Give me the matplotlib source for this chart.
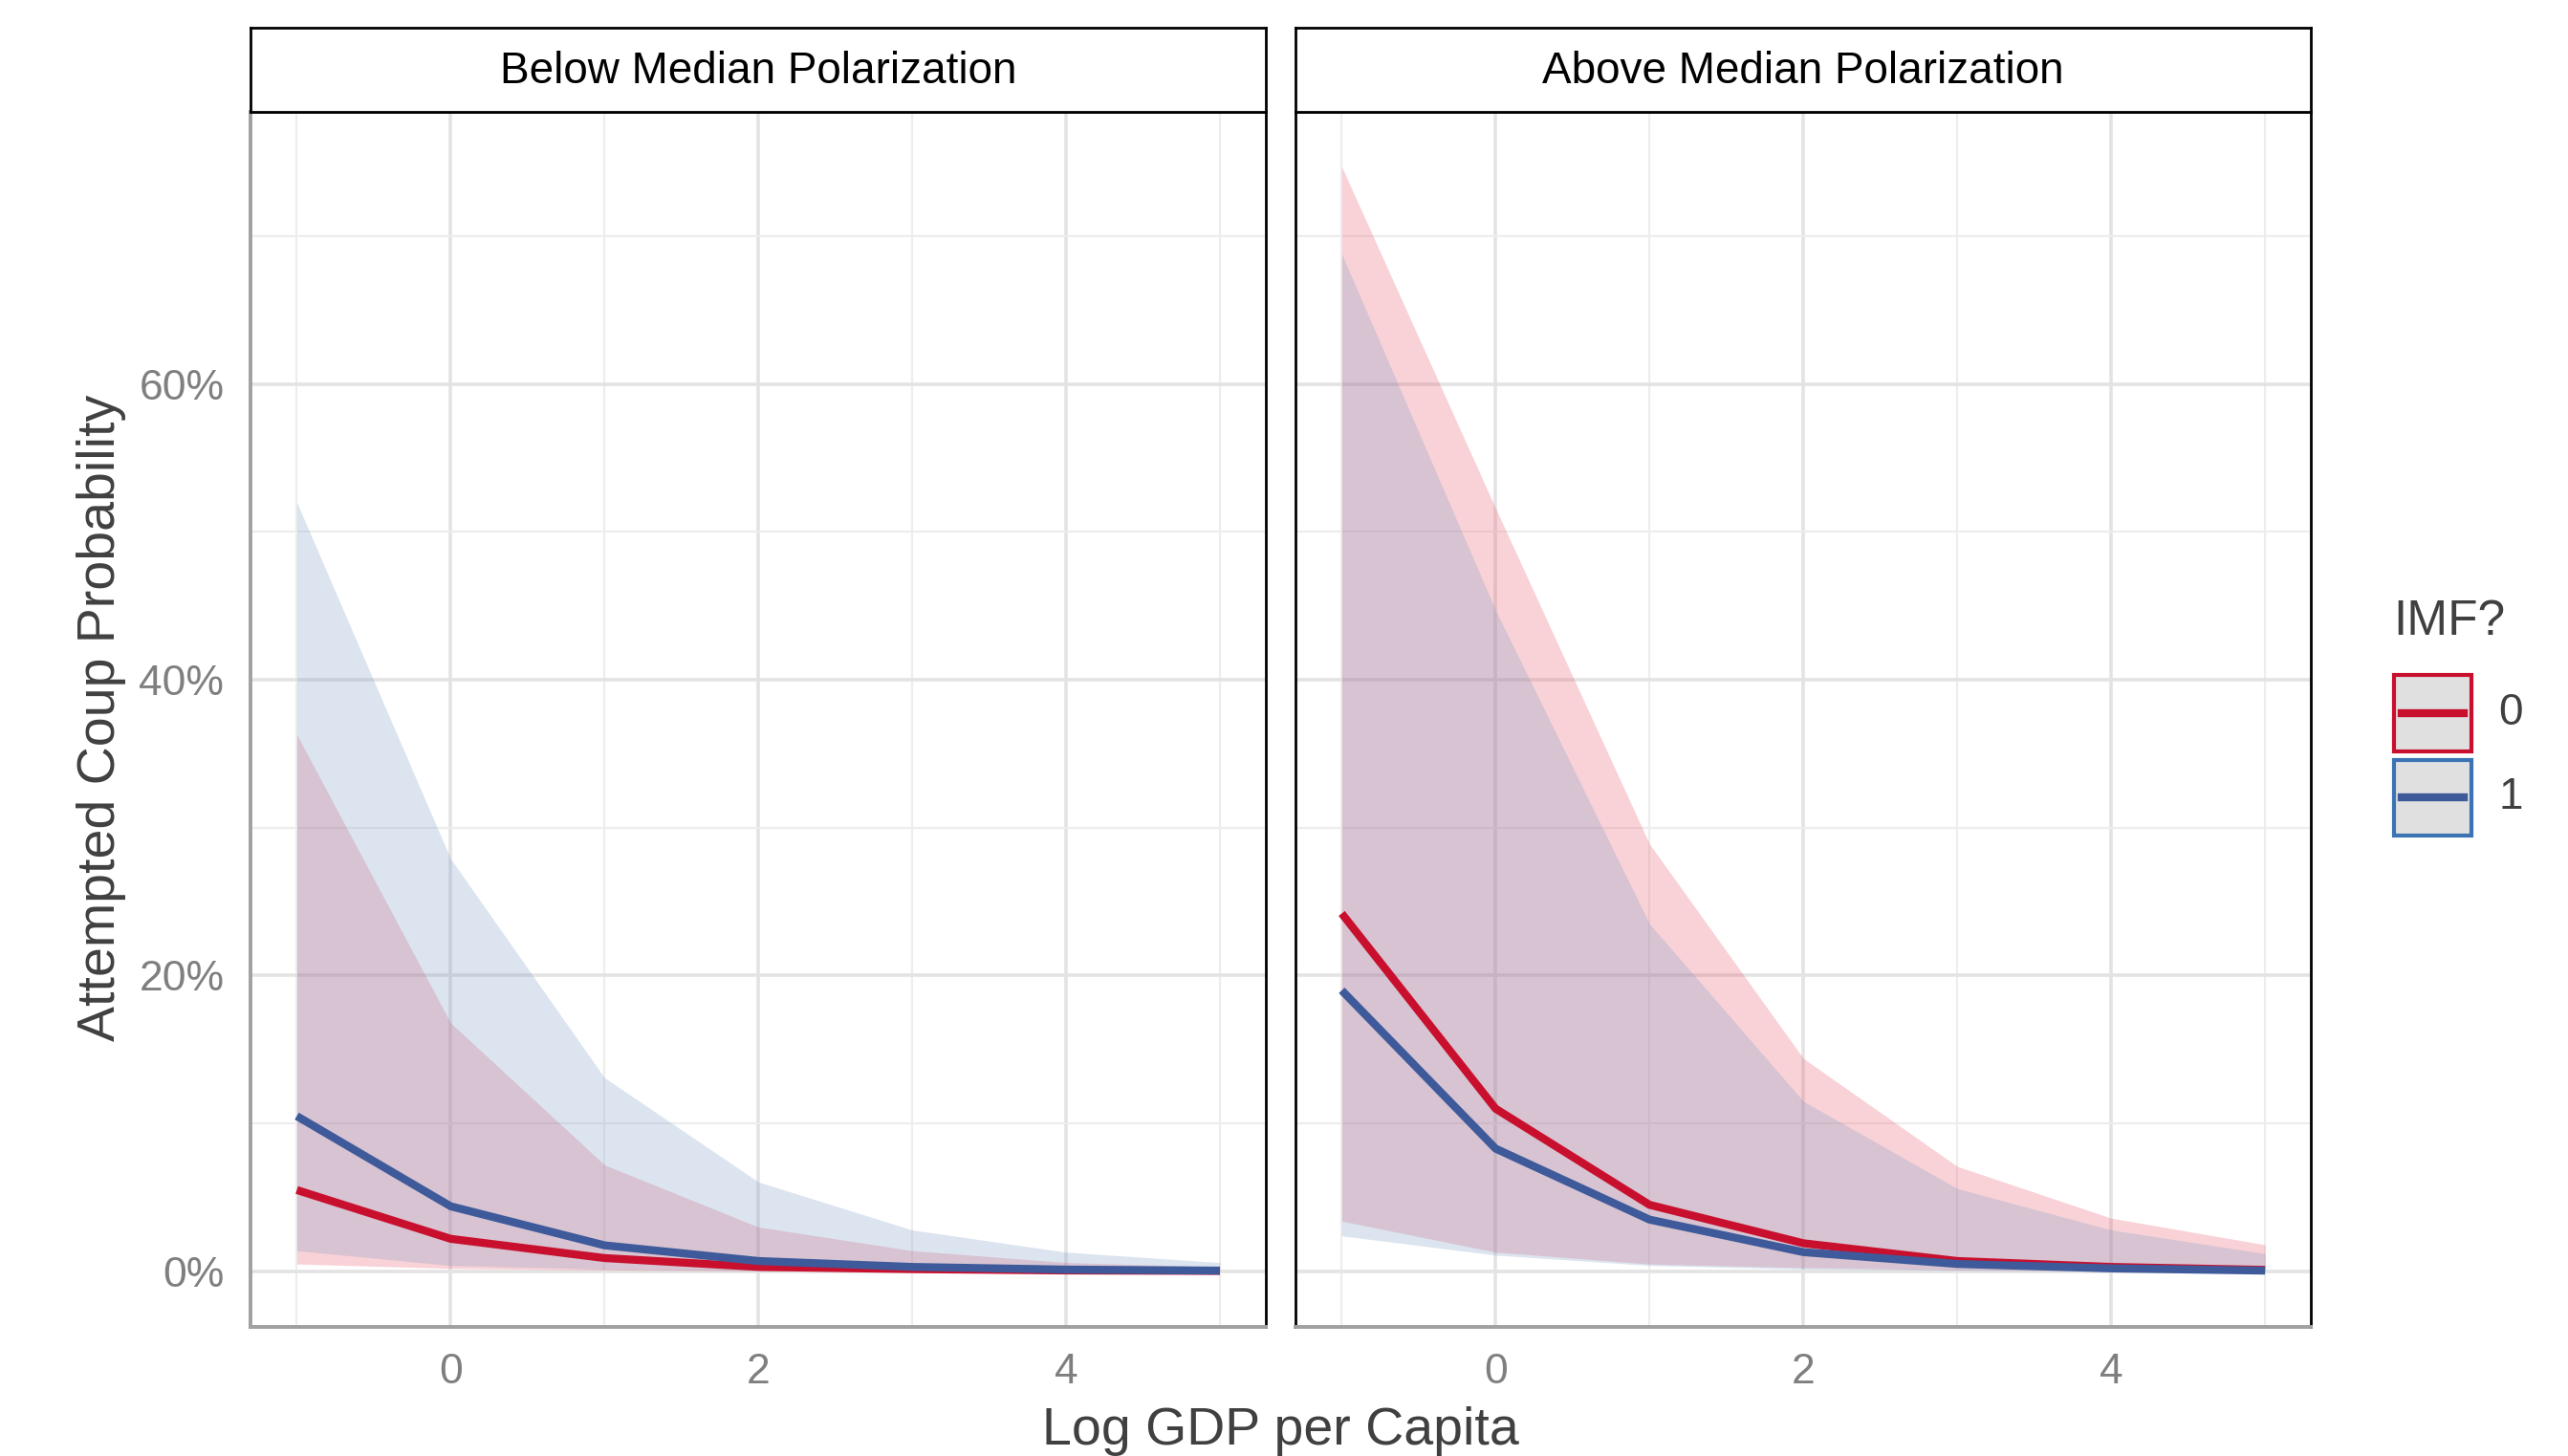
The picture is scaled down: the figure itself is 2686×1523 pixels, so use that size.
import numpy as np
import matplotlib.pyplot as plt
from matplotlib.patches import Rectangle
from matplotlib.lines import Line2D
from matplotlib.ticker import FuncFormatter

plt.rcParams['font.family'] = ['Liberation Sans', 'DejaVu Sans']

# log GDP per capita
x = [-1, 0, 1, 2, 3, 4, 5]

# below median polarization
below_fit_0 = [0.055, 0.022, 0.009, 0.003, 0.0015, 0.0006, 0.0003]
below_lo_0 = [0.005, 0.002, 0.0008, 0.0003, 0.0001, 0.00005, 0.00002]
below_hi_0 = [0.363, 0.168, 0.072, 0.030, 0.014, 0.006, 0.003]
below_fit_1 = [0.105, 0.044, 0.0176, 0.007, 0.003, 0.0012, 0.0005]
below_lo_1 = [0.014, 0.004, 0.0015, 0.0005, 0.0002, 0.0001, 0.00003]
below_hi_1 = [0.520, 0.279, 0.131, 0.0605, 0.028, 0.013, 0.006]

# above median polarization
above_fit_0 = [0.242, 0.110, 0.045, 0.019, 0.007, 0.003, 0.001]
above_lo_0 = [0.034, 0.013, 0.005, 0.0025, 0.001, 0.0004, 0.0002]
above_hi_0 = [0.747, 0.516, 0.289, 0.144, 0.071, 0.036, 0.018]
above_fit_1 = [0.190, 0.083, 0.035, 0.013, 0.005, 0.002, 0.0005]
above_lo_1 = [0.024, 0.011, 0.004, 0.0015, 0.0006, 0.0002, 0.0001]
above_hi_1 = [0.688, 0.447, 0.235, 0.115, 0.056, 0.028, 0.012]

panels = ["Below Median Polarization", "Above Median Polarization"]
imf_levels = ["0", "1"]

line_col = {"0": "#C8102E", "1": "#3E5A9A"}
fill_col = {"0": "#E74F63", "1": "#7797C3"}
key_edge = {"0": "#C8102E", "1": "#3B73B5"}
fill_alpha = 0.25

all_lo = min(below_lo_0 + below_lo_1 + above_lo_0 + above_lo_1)
all_hi = max(below_hi_0 + below_hi_1 + above_hi_0 + above_hi_1)
pad = 0.05 * (all_hi - all_lo)
ylim = (all_lo - pad, all_hi + pad)

fig = plt.figure(figsize=(26.86, 15.23), dpi=100)

ax_l = fig.add_axes([0.0976, 0.0889, 0.493 - 0.0976, 0.8346])
ax_r = fig.add_axes([0.5045, 0.0889, 0.900 - 0.5045, 0.8346])

data = [
    (below_fit_0, below_lo_0, below_hi_0, below_fit_1, below_lo_1, below_hi_1),
    (above_fit_0, above_lo_0, above_hi_0, above_fit_1, above_lo_1, above_hi_1),
]

for i, ax in enumerate([ax_l, ax_r]):
    f0, l0, h0, f1, l1, h1 = data[i]
    ax.fill_between(x, l0, h0, color=fill_col["0"], alpha=fill_alpha, lw=0)
    ax.fill_between(x, l1, h1, color=fill_col["1"], alpha=fill_alpha, lw=0)
    ax.plot(x, f0, color=line_col["0"], lw=6, solid_capstyle='butt')
    ax.plot(x, f1, color=line_col["1"], lw=6, solid_capstyle='butt')

    ax.set_xlim(-1.3, 5.3)
    ax.set_ylim(*ylim)
    ax.set_xticks([0, 2, 4])
    ax.set_xticks([-1, 1, 3, 5], minor=True)
    ax.set_yticks([0, 0.2, 0.4, 0.6])
    ax.set_yticks([0.1, 0.3, 0.5, 0.7], minor=True)
    ax.yaxis.set_major_formatter(FuncFormatter(lambda v, p: f"{v*100:.0f}%"))
    ax.grid(which='major', color='#E3E3E3', lw=2.6)
    ax.grid(which='minor', color='#EDEDED', lw=1.6)
    ax.set_axisbelow(True)
    ax.tick_params(which='both', length=0, labelsize=32, labelcolor='#7F7F7F', pad=20)

    for s in ['top', 'right', 'left']:
        ax.spines[s].set_color('black')
        ax.spines[s].set_linewidth(2)
    ax.spines['bottom'].set_color('#A0A0A0')
    ax.spines['bottom'].set_linewidth(2.8)

    # strip
    sx = ax.get_position()
    strip = fig.add_axes([sx.x0, 0.9235, sx.width, 0.981 - 0.9235])
    strip.set_xticks([])
    strip.set_yticks([])
    for s in strip.spines.values():
        s.set_linewidth(2)
    strip.text(0.5, 0.47, panels[i], ha='center', va='center', fontsize=33, color='black')

ax_l.spines['left'].set_color('#A0A0A0')
ax_l.spines['left'].set_linewidth(2.8)
ax_r.tick_params(labelleft=False)

fig.text(0.4987, 0.017, "Log GDP per Capita", ha='center', va='center', fontsize=40, color='#404040')
fig.text(0.0395, 0.507, "Attempted Coup Probability", ha='center', va='center',
         rotation=90, fontsize=40, color='#404040')

# legend
fig.text(0.932, 0.5726, "IMF?", ha='left', va='center', fontsize=37, color='#404040')
kx0, kx1 = 1462 / 1568, 1509 / 1568
key_y = [(412, 459), (464, 510)]
for lev, (ya, yb) in zip(imf_levels, key_y):
    y0 = 1 - yb / 889
    y1 = 1 - ya / 889
    fig.patches.append(Rectangle((kx0, y0), kx1 - kx0, y1 - y0, transform=fig.transFigure,
                                 facecolor='#E0E0E0', edgecolor=key_edge[lev], lw=3))
    ym = (y0 + y1) / 2
    fig.lines.append(Line2D([kx0 + 0.003, kx1 - 0.003], [ym, ym], transform=fig.transFigure,
                            color=line_col[lev], lw=6))
    fig.text(1533 / 1568, ym, lev, ha='center', va='center', fontsize=33, color='#404040')

fig.savefig("out.png", dpi=100, facecolor='white')
